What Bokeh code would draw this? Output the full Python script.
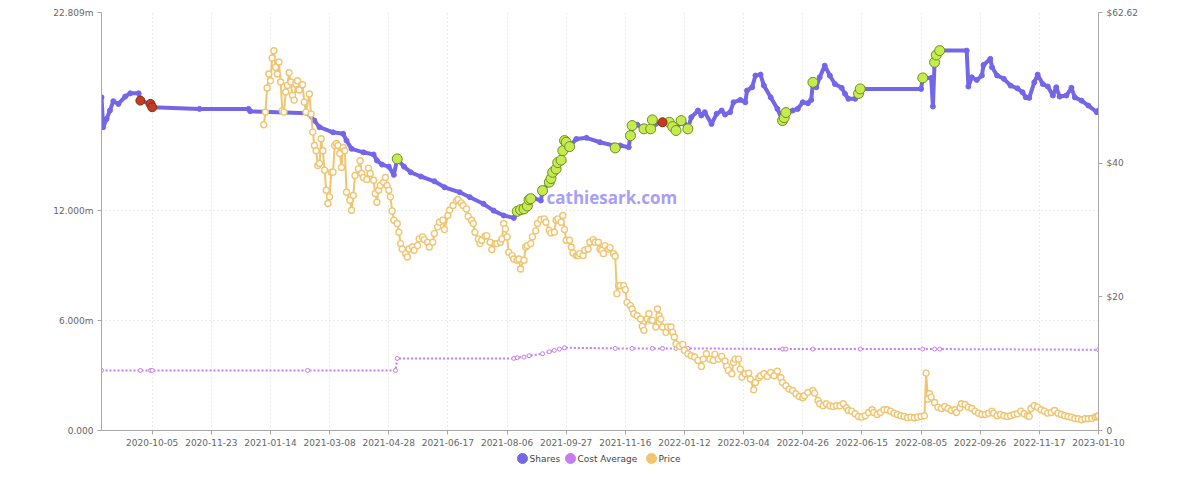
from bokeh.plotting import figure
from bokeh.models import Range1d, LinearAxis, FixedTicker, Label
from bokeh.layouts import column
from bokeh.core.properties import value
from bokeh.embed import file_html
from bokeh.resources import INLINE

FONT = "DejaVu Sans"

# ---- x axis: trading-day index, labelled every 35 trading days ----
tick_labels = ["2020-10-05", "2020-11-23", "2021-01-14", "2021-03-08", "2021-04-28",
               "2021-06-17", "2021-08-06", "2021-09-27", "2021-11-16", "2022-01-12",
               "2022-03-04", "2022-04-26", "2022-06-15", "2022-08-05", "2022-09-26",
               "2022-11-17", "2023-01-10"]
tick_days = [30 + 35 * i for i in range(len(tick_labels))]
last_day = tick_days[-1]

# ---- Shares held (millions) ----
share_day = [0, 1, 3, 5, 7, 10, 14, 17, 22, 23,
             29, 30, 58, 87, 88, 122, 126, 129, 137, 143,
             145, 148, 155, 161, 163, 166, 170, 173, 175, 179,
             183, 189, 197, 203, 212, 218, 226, 232, 238, 244,
             246, 248, 250, 252, 253, 254, 256, 260, 261, 265,
             266, 267, 269, 270, 272, 273, 274, 275, 277, 281,
             287, 295, 303, 304, 307, 312, 313, 314, 317, 321,
             325, 326, 328, 332, 336, 338, 340, 343, 345, 347,
             349, 353, 355, 357, 361, 364, 367, 369, 372, 374,
             378, 381, 382, 385, 387, 390, 392, 396, 400, 403,
             404, 405, 406, 409, 412, 415, 418, 420, 421, 423,
             425, 428, 431, 434, 438, 440, 442, 446, 448, 449,
             485, 486, 491, 492, 493, 494, 496, 512, 513, 515,
             518, 521, 522, 526, 527, 530, 534, 538, 542, 545,
             547, 549, 552, 554, 557, 560, 563, 565, 567, 571,
             574, 576, 580, 584, 589, 590]
share_m = [18.18, 16.55, 17.00, 17.46, 17.97, 17.82, 18.22, 18.40, 18.40, 18.00,
           17.82, 17.64, 17.55, 17.55, 17.42, 17.31, 16.91, 16.55, 16.27, 16.19,
           15.82, 15.37, 15.18, 15.06, 14.73, 14.51, 14.40, 13.95, 14.82, 14.40,
           14.09, 13.86, 13.60, 13.27, 13.00, 12.73, 12.37, 12.00, 11.73, 11.60,
           11.96, 12.05, 12.09, 12.25, 12.59, 12.65, 12.67, 12.55, 13.09, 13.55,
           13.75, 14.09, 14.27, 14.62, 14.75, 15.27, 15.82, 15.73, 15.49, 15.91,
           15.97, 15.73, 15.55, 15.42, 15.55, 15.46, 16.09, 16.64, 16.69, 16.46,
           16.46, 16.95, 16.73, 16.82, 16.82, 16.58, 16.37, 16.91, 16.73, 16.46,
           17.09, 17.46, 17.19, 17.37, 16.73, 17.28, 17.46, 17.24, 17.37, 17.91,
           18.04, 17.91, 18.55, 18.73, 19.37, 19.42, 18.82, 18.18, 17.55, 16.91,
           17.07, 17.35, 17.31, 17.46, 17.55, 17.91, 17.86, 18.04, 19.00, 18.73,
           19.27, 19.91, 19.37, 18.91, 18.70, 18.37, 18.10, 18.10, 18.39, 18.64,
           18.64, 19.24, 19.24, 17.68, 20.09, 20.49, 20.73, 20.73, 18.77, 19.27,
           19.13, 19.37, 19.95, 20.28, 19.82, 19.37, 19.19, 18.82, 18.67, 18.46,
           18.18, 18.15, 19.00, 19.42, 18.91, 18.77, 18.28, 18.73, 18.22, 18.28,
           18.70, 18.18, 18.00, 17.73, 17.37, 17.46]

# ---- trades (shares after trade, millions) ----
buy_day = [175, 246, 248, 250, 252, 253, 254, 261, 265, 266,
           267, 269, 270, 272, 273, 274, 275, 277, 304, 313,
           314, 321, 325, 326, 336, 338, 340, 343, 347, 403,
           404, 405, 421, 448, 449, 486, 493, 494, 496]
buy_m = [14.82, 11.96, 12.05, 12.09, 12.25, 12.59, 12.65, 13.09, 13.55, 13.75,
         14.09, 14.27, 14.62, 14.75, 15.27, 15.82, 15.73, 15.49, 15.42, 16.09,
         16.64, 16.46, 16.46, 16.95, 16.82, 16.58, 16.37, 16.91, 16.46, 16.91,
         17.07, 17.35, 19.00, 18.39, 18.64, 19.24, 20.09, 20.49, 20.73]
sell_day = [23, 29, 30, 332]
sell_m = [18.00, 17.82, 17.64, 16.82]

# ---- Cost average ($) ----
cost_day = [0, 23, 29, 30, 122, 174, 175, 244, 246, 250,
            253, 261, 265, 268, 271, 274, 304, 314, 326, 332,
            340, 347, 403, 405, 421, 449, 486, 493, 496, 590]
cost_usd = [9.0, 9.0, 9.0, 9.0, 9.0, 9.0, 10.8, 10.8, 10.9, 11.0,
            11.2, 11.5, 11.8, 12.0, 12.2, 12.4, 12.3, 12.3, 12.3, 12.3,
            12.3, 12.3, 12.2, 12.2, 12.2, 12.2, 12.2, 12.2, 12.2, 12.1]

# ---- Price ($) ----
price_day = [96, 97, 98, 99, 100, 101, 102, 103, 104, 105,
             106, 107, 108, 109, 110, 111, 112, 113, 114, 115,
             116, 117, 119, 120, 121, 123, 124, 125, 126, 127,
             128, 129, 130, 131, 132, 133, 134, 135, 136, 137,
             138, 139, 140, 141, 142, 143, 144, 145, 147, 148,
             149, 150, 152, 153, 154, 155, 157, 158, 159, 161,
             162, 163, 164, 165, 167, 168, 169, 170, 171, 172,
             173, 175, 176, 177, 178, 180, 181, 182, 184, 185,
             187, 188, 190, 191, 193, 194, 196, 197, 199, 200,
             202, 203, 205, 206, 208, 210, 211, 213, 214, 216,
             217, 219, 220, 221, 223, 224, 225, 227, 228, 230,
             231, 233, 234, 236, 237, 238, 239, 240, 241, 243,
             244, 246, 247, 248, 250, 251, 252, 254, 255, 257,
             258, 260, 262, 263, 265, 266, 268, 269, 270, 272,
             273, 274, 275, 277, 278, 279, 281, 282, 283, 285,
             286, 288, 289, 291, 292, 294, 295, 296, 297, 298,
             300, 301, 303, 304, 305, 306, 307, 309, 310, 311,
             313, 314, 315, 317, 319, 320, 321, 323, 324, 325,
             326, 328, 329, 330, 331, 332, 334, 335, 337, 338,
             339, 340, 342, 344, 345, 347, 349, 351, 353, 355,
             356, 358, 360, 362, 363, 365, 367, 369, 370, 371,
             373, 374, 375, 377, 378, 379, 381, 383, 384, 386,
             387, 389, 390, 392, 394, 396, 398, 400, 402, 403,
             405, 407, 409, 411, 413, 415, 416, 418, 421, 422,
             424, 425, 427, 429, 431, 433, 435, 437, 439, 441,
             442, 444, 446, 448, 450, 452, 454, 456, 457, 459,
             461, 463, 465, 467, 469, 471, 473, 475, 477, 479,
             481, 483, 485, 487, 488, 489, 490, 491, 493, 495,
             497, 499, 501, 503, 505, 506, 508, 509, 511, 513,
             515, 517, 519, 521, 523, 525, 527, 528, 530, 532,
             534, 536, 538, 540, 542, 544, 546, 548, 549, 550,
             552, 554, 556, 558, 560, 562, 564, 566, 568, 570,
             572, 574, 576, 578, 580, 582, 584, 586, 588, 589,
             590]
price_usd = [45.8, 47.7, 51.3, 53.4, 52.4, 55.8, 56.9, 54.4, 53.4, 55.2,
             52.2, 47.9, 47.7, 50.7, 51.7, 53.6, 52.2, 50.2, 49.5, 51.9,
             52.4, 51.0, 51.8, 49.2, 47.7, 50.4, 47.4, 44.7, 42.7, 41.9,
             39.7, 40.0, 43.7, 41.9, 39.0, 36.0, 34.0, 35.0, 38.7, 38.7,
             42.7, 43.0, 42.7, 41.5, 39.4, 42.4, 41.9, 35.7, 34.5, 33.0,
             35.2, 38.2, 39.2, 40.4, 38.5, 37.9, 37.6, 39.3, 38.5, 37.5,
             35.5, 34.2, 36.0, 36.7, 37.2, 37.9, 36.7, 36.0, 35.0, 32.9,
             31.5, 31.0, 29.7, 28.0, 27.2, 26.5, 26.0, 27.2, 27.5, 27.0,
             27.7, 28.7, 29.0, 28.6, 28.2, 27.5, 28.2, 29.5, 30.5, 31.2,
             31.5, 30.1, 32.2, 33.0, 33.7, 34.4, 34.6, 34.1, 33.7, 33.2,
             32.1, 31.5, 31.0, 29.7, 28.7, 28.0, 28.5, 29.1, 29.2, 28.2,
             27.1, 28.0, 28.0, 28.2, 28.7, 31.0, 30.2, 29.0, 26.7, 26.2,
             25.7, 25.5, 25.7, 24.2, 25.5, 27.5, 27.7, 28.0, 29.0, 29.9,
             31.0, 31.6, 31.7, 31.2, 30.0, 29.6, 29.7, 31.5, 31.7, 31.2,
             32.2, 30.1, 28.5, 28.5, 27.5, 26.6, 26.2, 26.2, 26.5, 26.2,
             27.0, 27.2, 28.2, 28.6, 28.2, 28.2, 27.2, 27.0, 26.5, 27.7,
             27.2, 27.4, 26.5, 26.1, 20.5, 21.7, 21.7, 21.7, 21.1, 19.2,
             18.7, 18.2, 17.5, 17.2, 16.7, 15.6, 15.0, 16.7, 17.5, 16.5,
             16.5, 15.5, 18.2, 17.2, 16.7, 15.5, 14.7, 15.5, 15.5, 14.7,
             14.0, 13.0, 12.6, 12.9, 12.0, 11.5, 11.2, 11.0, 10.5, 9.6,
             10.7, 11.5, 10.7, 10.5, 11.4, 10.7, 11.1, 10.4, 9.6, 9.0,
             8.5, 10.2, 10.7, 10.7, 9.2, 8.0, 8.5, 8.6, 7.7, 6.1,
             7.2, 7.9, 8.2, 8.5, 8.1, 8.7, 8.2, 8.9, 7.9, 7.2,
             6.7, 6.2, 6.0, 5.5, 5.1, 4.9, 5.2, 5.7, 6.0, 5.6,
             4.5, 4.0, 3.7, 4.0, 3.7, 3.6, 3.7, 3.7, 4.0, 3.4,
             3.0, 2.9, 2.5, 2.1, 2.0, 2.2, 2.7, 3.1, 2.7, 2.4,
             2.7, 3.1, 3.1, 2.9, 2.6, 2.4, 2.2, 2.1, 1.9, 2.0,
             1.9, 2.0, 2.1, 2.2, 8.6, 4.7, 5.5, 5.0, 4.2, 3.5,
             3.3, 3.6, 3.3, 3.0, 3.1, 2.7, 3.4, 4.0, 3.9, 3.5,
             3.3, 2.9, 2.6, 2.4, 2.4, 2.6, 2.9, 2.6, 2.2, 2.4,
             2.2, 2.1, 2.2, 2.4, 2.5, 2.9, 2.5, 2.2, 2.1, 3.3,
             3.7, 3.5, 3.1, 2.9, 2.6, 2.7, 3.0, 2.6, 2.4, 2.2,
             2.1, 2.0, 1.8, 1.75, 1.6, 1.75, 1.75, 1.8, 2.0, 2.1,
             2.2]

# ---- axes ----
share_ticks = [0, 6, 12, 22.809]
share_tick_labels = ["0.000", "6.000m", "12.000m", "22.809m"]
price_ticks = [0, 20, 40, 62.62]
price_tick_labels = ["0", "$20", "$40", "$62.62"]

# ---- legend ----
legend_labels = ["Shares", "Cost Average", "Price"]

SHARES_C = "#7466e8"
COST_C = "#c77cf0"
PRICE_C = "#f0c571"
AXIS_C = "#a8a8a8"
LABEL_C = "#666666"
legend_colors = [SHARES_C, COST_C, PRICE_C]

W = 1192
LEFT, RIGHT = 101, 94
p = figure(width=W, height=449, output_backend="svg", toolbar_location=None,
           x_range=Range1d(0, last_day), y_range=Range1d(0, share_ticks[-1]),
           min_border_left=LEFT, min_border_right=RIGHT, min_border_top=12,
           min_border_bottom=19)
p.extra_y_ranges = {"price": Range1d(0, price_ticks[-1])}
p.outline_line_color = None
p.background_fill_color = "white"

p.xaxis.ticker = FixedTicker(ticks=tick_days)
p.xaxis.major_label_overrides = {d: l for d, l in zip(tick_days, tick_labels)}
p.yaxis.ticker = FixedTicker(ticks=share_ticks)
p.yaxis.major_label_overrides = {t: l for t, l in zip(share_ticks, share_tick_labels)}

ra = LinearAxis(y_range_name="price", ticker=FixedTicker(ticks=price_ticks),
                major_label_overrides={t: l for t, l in zip(price_ticks, price_tick_labels)})
p.add_layout(ra, "right")

for ax in p.axis:
    ax.axis_line_color = AXIS_C
    ax.major_tick_line_color = AXIS_C
    ax.minor_tick_line_color = None
    ax.major_tick_in = 0
    ax.major_tick_out = 4
    ax.major_label_text_font = FONT
    ax.major_label_text_font_size = "9px"
    ax.major_label_text_color = LABEL_C
    ax.major_label_standoff = 4

p.xgrid.ticker = FixedTicker(ticks=tick_days)
p.ygrid.ticker = FixedTicker(ticks=share_ticks)
for g in (p.xgrid, p.ygrid):
    g.grid_line_color = "#d9d9d9"
    g.grid_line_dash = "1 3"
    g.grid_line_width = 1

# ---- watermark ----
p.add_layout(Label(x=302, y=12.7, text="cathiesark.com", text_align="center",
                   text_baseline="middle", text_font="Open Sans", text_font_style="bold",
                   text_font_size="17px", text_color="#a99ef5"))

# ---- series ----
p.line(share_day, share_m, line_color=SHARES_C, line_width=4)
p.scatter(share_day, share_m, marker="circle", size=5, fill_color=SHARES_C, line_color=SHARES_C)

p.line(cost_day, cost_usd, y_range_name="price", line_color=COST_C, line_width=2, line_dash="2 2")
p.scatter(cost_day, cost_usd, y_range_name="price", marker="circle", size=4,
          fill_color="white", line_color=COST_C, line_width=1)

p.line(price_day, price_usd, y_range_name="price", line_color=PRICE_C, line_width=2)
p.scatter(price_day, price_usd, y_range_name="price", marker="circle", size=6,
          fill_color="white", line_color=PRICE_C, line_width=1.4)

p.scatter(buy_day, buy_m, marker="circle", size=10, fill_color="#c4ec50",
          line_color="#6f8f1e", line_width=1)
p.scatter(sell_day, sell_m, marker="circle", size=9, fill_color="#c23b22",
          line_color="#8a2a14", line_width=1)

# ---- legend strip: its frame is aligned with the main frame; x in page pixels ----
leg = figure(width=W, height=18, output_backend="svg", toolbar_location=None,
             x_range=Range1d(LEFT, W - RIGHT), y_range=Range1d(0, 1),
             min_border_left=LEFT, min_border_right=RIGHT, min_border_top=0, min_border_bottom=0)
leg.axis.visible = False
leg.grid.visible = False
leg.outline_line_color = None
dot_x = [522, 570, 651]
leg.scatter(dot_x, [0.5] * 3, marker="circle", size=10, fill_color=legend_colors,
            line_color=legend_colors)
leg.text([x + 7 for x in dot_x], [0.5] * 3, text=legend_labels, text_baseline="middle",
         text_align="left", text_font=value(FONT), text_font_size="9px",
         text_color="#444444")

open("out.html", "w").write(file_html(column(p, leg, spacing=0), INLINE))
